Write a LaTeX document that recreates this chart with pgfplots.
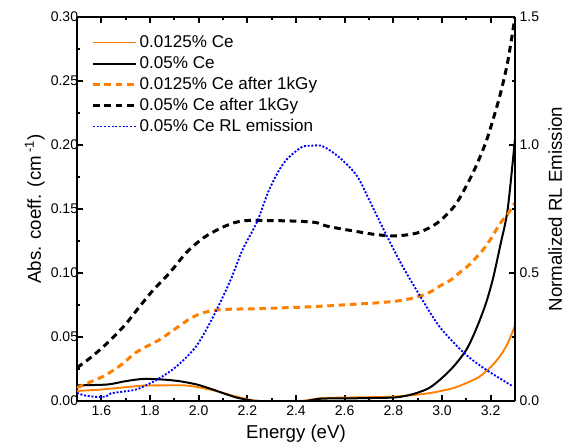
\documentclass[border=0pt]{standalone}
\usepackage{pgfplots}
\pgfplotsset{compat=1.18}
\usepackage{fontspec}
\setmainfont{Liberation Sans}

\definecolor{ceorange}{RGB}{255,127,0}
\definecolor{rlblue}{RGB}{0,0,255}

\pgfplotsset{
  chart/.style={
    scale only axis,
    width=328.5pt,
    height=288pt,
    xmin=1.5, xmax=3.3,
    tick align=inside,
    major tick length=4.5pt,
    minor tick length=2.5pt,
    every tick/.style={line width=1.3pt, black},
    separate axis lines,
    axis line style={line width=1.8pt},
    ticklabel style={font=\fontsize{10.5}{12.5}\selectfont},
    label style={font=\fontsize{14}{16.8}\selectfont},
    /pgf/number format/assume math mode=true,
  },
}

\begin{document}
\begin{tikzpicture}
\begin{axis}[
  chart,
  ymin=0, ymax=0.3,
  xtick={1.6,1.8,...,3.2},
  minor x tick num=1,
  ytick={0,0.05,...,0.3},
  minor y tick num=1,
  ytick pos=left,
  xticklabel style={/pgf/number format/.cd, fixed, fixed zerofill, precision=1},
  yticklabel style={inner xsep=1pt, xshift=2pt, /pgf/number format/.cd, fixed, fixed zerofill, precision=2},
  xlabel={Energy (eV)},
  ylabel={Abs. coeff. (cm\,\textsuperscript{-1})},
  legend style={
    at={(0.023,0.962)}, anchor=north west,
    draw=none, fill=none,
    font=\fontsize{12.8}{15}\selectfont,
    nodes={inner sep=0pt, text height=9.5pt, text depth=2.5pt},
    row sep=3.75pt,
  },
  legend cell align=left,
  legend image code/.code={\draw[#1] (0pt,0pt) -- (32pt,0pt);},
]
% 0.0125% Ce
\addplot[ceorange, line width=1.4pt, smooth] table {
1.50 0.0078
1.60 0.0090
1.70 0.0108
1.77 0.0120
1.85 0.0122
1.95 0.0121
2.05 0.0088
2.10 0.0062
2.16 0.0032
2.22 0.0005
2.26 0.0
2.42 0.0
2.50 0.0022
2.60 0.0027
2.70 0.0030
2.80 0.0034
2.90 0.0050
2.95 0.0062
3.00 0.0080
3.05 0.0103
3.10 0.0140
3.15 0.0185
3.18 0.0230
3.21 0.0285
3.24 0.0355
3.27 0.0450
3.30 0.0590
};
\addlegendentry{\hspace{2pt}0.0125\% Ce}
% 0.05% Ce
\addplot[black, line width=1.5pt, smooth] table {
1.50 0.0122
1.55 0.0124
1.63 0.0130
1.70 0.0155
1.77 0.0172
1.85 0.0168
1.92 0.0155
1.99 0.0130
2.05 0.0095
2.10 0.0062
2.15 0.0030
2.20 0.0010
2.25 0.0
2.43 0.0
2.50 0.0018
2.60 0.0020
2.70 0.0023
2.80 0.0027
2.85 0.0040
2.90 0.0065
2.95 0.0105
3.00 0.0180
3.05 0.0275
3.10 0.0400
3.14 0.0560
3.18 0.0760
3.21 0.0960
3.24 0.1220
3.27 0.1500
3.30 0.2050
};
\addlegendentry{\hspace{2pt}0.05\% Ce}
% 0.0125% Ce after 1kGy
\addplot[ceorange, line width=2.25pt, dash pattern=on 5pt off 3.5pt, smooth] table {
1.50 0.0103
1.55 0.0145
1.61 0.0195
1.68 0.0280
1.74 0.0376
1.80 0.0440
1.84 0.0480
1.92 0.0585
1.97 0.0650
2.02 0.0690
2.08 0.0712
2.15 0.0718
2.22 0.0720
2.30 0.0725
2.42 0.0733
2.52 0.0742
2.62 0.0754
2.72 0.0765
2.81 0.0780
2.87 0.0800
2.91 0.0820
2.95 0.0850
2.99 0.0897
3.04 0.0950
3.07 0.1000
3.11 0.1060
3.14 0.1120
3.17 0.1185
3.20 0.1265
3.24 0.1390
3.27 0.1460
3.30 0.1550
};
\addlegendentry{\hspace{2pt}0.0125\% Ce after 1kGy}
% 0.05% Ce after 1kGy
\addplot[black, line width=2.25pt, dash pattern=on 5pt off 3.5pt, smooth] table {
1.50 0.0260
1.55 0.0330
1.60 0.0410
1.65 0.0500
1.70 0.0600
1.75 0.0720
1.81 0.0860
1.88 0.1000
1.95 0.1160
2.02 0.1275
2.09 0.1350
2.15 0.1395
2.20 0.1410
2.29 0.1410
2.40 0.1405
2.48 0.1395
2.53 0.1365
2.64 0.1327
2.73 0.1300
2.81 0.1290
2.90 0.1314
2.98 0.1390
3.05 0.1520
3.10 0.1680
3.14 0.1835
3.18 0.2020
3.21 0.2200
3.24 0.2400
3.27 0.2650
3.30 0.3000
};
\addlegendentry{\hspace{2pt}0.05\% Ce after 1kGy}
\addlegendimage{rlblue, line width=1.4pt, dash pattern=on 1.5pt off 1.3pt}
\addlegendentry{\hspace{2pt}0.05\% Ce RL emission}
\end{axis}

\begin{axis}[
  chart,
  ymin=0, ymax=1.5,
  axis x line=none,
  axis y line*=right,
  ytick={0,0.5,1,1.5},
  minor y tick num=1,
  yticklabel style={/pgf/number format/.cd, fixed, fixed zerofill, precision=1},
  ylabel={Normalized RL Emission},
]
\addplot[rlblue, line width=1.4pt, dash pattern=on 1.5pt off 1.3pt, smooth] table {
1.50 0.032
1.53 0.022
1.58 0.016
1.62 0.018
1.64 0.030
1.70 0.038
1.75 0.047
1.83 0.084
1.91 0.136
1.99 0.214
2.06 0.330
2.13 0.470
2.18 0.590
2.24 0.700
2.29 0.826
2.35 0.930
2.42 0.990
2.46 0.997
2.51 0.995
2.58 0.950
2.65 0.880
2.70 0.787
2.76 0.670
2.83 0.540
2.91 0.410
2.99 0.290
3.09 0.188
3.18 0.123
3.29 0.058
};
\end{axis}
\pgfresetboundingbox
\path[use as bounding box] (-57.75pt,-34.5pt) rectangle (368.25pt,300.75pt);
\end{tikzpicture}
\end{document}
